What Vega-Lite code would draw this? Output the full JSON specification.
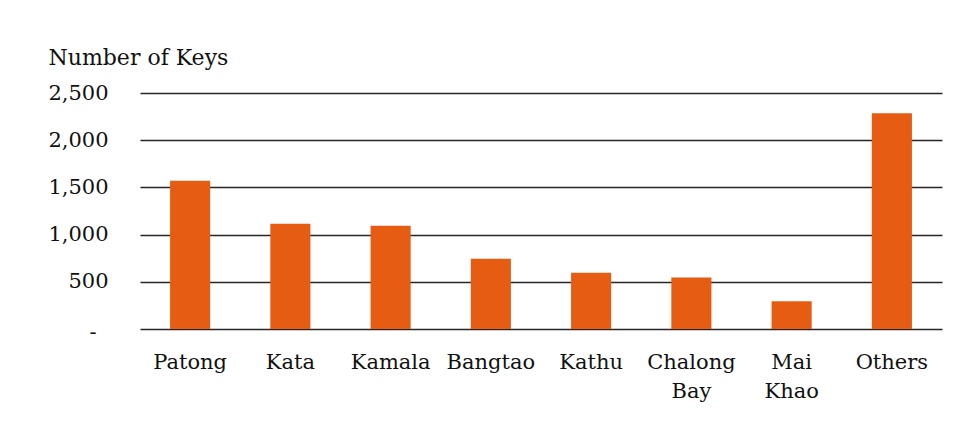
{
  "$schema": "https://vega.github.io/schema/vega-lite/v6.json",
  "autosize": {"type": "none"},
  "width": 802,
  "height": 236,
  "padding": {"left": 140, "top": 93, "right": 35, "bottom": 100},
  "background": "white",
  "data": {"values": [
    {"area": "Patong", "keys": 1570},
    {"area": "Kata", "keys": 1115},
    {"area": "Kamala", "keys": 1095},
    {"area": "Bangtao", "keys": 745},
    {"area": "Kathu", "keys": 595},
    {"area": "Chalong Bay", "keys": 545},
    {"area": "Mai Khao", "keys": 295},
    {"area": "Others", "keys": 2285}
  ]},
  "mark": {"type": "bar", "color": "#E65C13"},
  "encoding": {
    "x": {
      "field": "area", "type": "nominal", "sort": null,
      "scale": {"paddingInner": 0.6, "paddingOuter": 0.3},
      "axis": {
        "title": null, "labelAngle": 0, "ticks": false, "domain": false,
        "labelPadding": 33, "labelFontSize": 21, "labelFont": "DejaVu Serif",
        "labelColor": "#111111", "labelLineHeight": 29, "labelBaseline": "middle",
        "labelExpr": "indexof(datum.label, ' ') > 0 ? split(datum.label, ' ') : datum.label"
      }
    },
    "y": {
      "field": "keys", "type": "quantitative",
      "scale": {"domain": [0, 2500], "nice": false},
      "axis": {
        "values": [0, 500, 1000, 1500, 2000, 2500],
        "labelExpr": "datum.value == 0 ? '-' : format(datum.value, ',')",
        "ticks": false, "domain": false, "grid": true,
        "gridColor": "#262626", "gridWidth": 1.5,
        "labelPadding": {"condition": {"test": "datum.value == 0", "value": 44}, "value": 32},
        "labelOffset": {"condition": {"test": "datum.value == 0", "value": 3}, "value": 0},
        "labelFontSize": 21, "labelFont": "DejaVu Serif",
        "labelColor": "#111111",
        "title": "Number of Keys", "titleAngle": 0, "titleAlign": "left",
        "titleBaseline": "middle", "titleX": -92, "titleY": -36,
        "titleFont": "DejaVu Serif", "titleFontSize": 22, "titleFontWeight": "normal",
        "titleColor": "#111111"
      }
    }
  },
  "config": {"view": {"stroke": null}}
}
